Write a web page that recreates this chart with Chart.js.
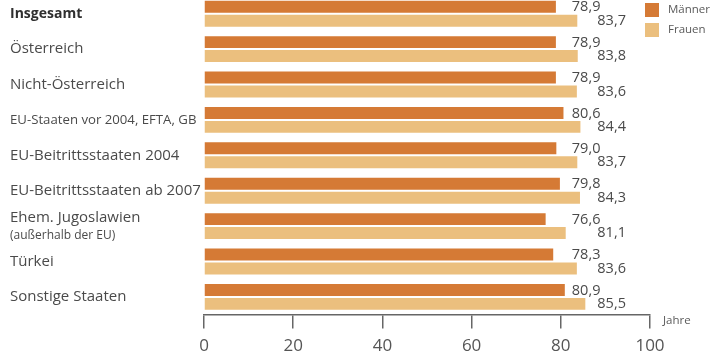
<!DOCTYPE html>
<html>
<head>
<meta charset="utf-8">
<script src="https://cdn.jsdelivr.net/npm/chart.js@4.4.1/dist/chart.umd.min.js"></script>
<style>
  html, body { margin: 0; padding: 0; background: #fff; overflow: hidden; }
  #wrap { position: absolute; left: 0; top: -4px; width: 710px; height: 367px; }
</style>
</head>
<body>
<div id="wrap"><canvas id="chart"></canvas></div>
<script>
// Lebenserwartung nach Staatsangehörigkeit
const categories = [
  'Insgesamt',
  'Österreich',
  'Nicht-Österreich',
  'EU-Staaten vor 2004, EFTA, GB',
  'EU-Beitrittsstaaten 2004',
  'EU-Beitrittsstaaten ab 2007',
  ['Ehem. Jugoslawien', '(außerhalb der EU)'],
  'Türkei',
  'Sonstige Staaten'
];
const maenner = [78.9, 78.9, 78.9, 80.6, 79.0, 79.8, 76.6, 78.3, 80.9];
const frauen = [83.7, 83.8, 83.6, 84.4, 83.7, 84.3, 81.1, 83.6, 85.5];
const xTicks = [0, 20, 40, 60, 80, 100];

const colMaenner = '#d57a35';
const colFrauen = '#ebbf7e';
const textCol = '#4a4a4a';
const FONT = '"Open Sans", sans-serif';

const fmt = v => v.toFixed(1).replace('.', ',');

// category labels, value labels, legend and axis title
const extras = {
  id: 'extras',
  afterDatasetsDraw(chart) {
    const ctx = chart.ctx;
    const x = chart.scales.x;
    const y = chart.scales.y;
    ctx.save();
    ctx.textBaseline = 'middle';

    // category labels on the left
    categories.forEach((c, i) => {
      const cy = y.getPixelForValue(i);
      ctx.textAlign = 'left';
      ctx.fillStyle = textCol;
      if (Array.isArray(c)) {
        ctx.font = '15px ' + FONT;
        ctx.fillText(c[0], 10, cy - 8);
        ctx.font = '12px ' + FONT;
        ctx.fillText(c[1], 10, cy + 9);
      } else if (i === 0) {
        ctx.font = 'bold 14px ' + FONT;
        ctx.fillStyle = '#2f2f2f';
        ctx.fillText(c, 10, cy);
      } else if (i === 3) {
        ctx.font = '13.2px ' + FONT;
        ctx.fillText(c, 10, cy);
      } else {
        ctx.font = '15px ' + FONT;
        ctx.fillText(c, 10, cy);
      }
    });

    // value labels in two columns right of the bars
    ctx.font = '14.5px ' + FONT;
    ctx.fillStyle = textCol;
    ctx.textAlign = 'left';
    const mCol = x.getPixelForValue(Math.max(...maenner)) + 7;
    const fCol = x.getPixelForValue(Math.max(...frauen)) + 12;
    chart.getDatasetMeta(0).data.forEach((bar, i) => {
      ctx.fillText(fmt(maenner[i]), mCol, bar.y + 0.5);
    });
    chart.getDatasetMeta(1).data.forEach((bar, i) => {
      ctx.fillText(fmt(frauen[i]), fCol, bar.y);
    });

    // legend
    const lx = 645, ly = 7;
    chart.data.datasets.forEach((ds, i) => {
      ctx.fillStyle = ds.backgroundColor;
      ctx.fillRect(lx, ly + i * 20, 14, 14);
      ctx.fillStyle = '#5a5a5a';
      ctx.font = '11.5px ' + FONT;
      ctx.fillText(ds.label, lx + 23, ly + 7 + i * 20);
    });

    // axis unit
    ctx.font = '11.5px ' + FONT;
    ctx.fillStyle = '#5a5a5a';
    ctx.fillText('Jahre', x.right + 13, chart.chartArea.bottom + 6);
    ctx.restore();
  }
};

new Chart(document.getElementById('chart'), {
  type: 'bar',
  data: {
    labels: categories,
    datasets: [
      { label: 'Männer', data: maenner, backgroundColor: colMaenner },
      { label: 'Frauen', data: frauen, backgroundColor: colFrauen }
    ]
  },
  options: {
    indexAxis: 'y',
    responsive: true,
    maintainAspectRatio: false,
    animation: false,
    categoryPercentage: 0.7875,
    barPercentage: 0.857,
    layout: { padding: { left: 204, right: 60, top: 0, bottom: 0 } },
    plugins: {
      legend: { display: false },
      tooltip: { enabled: false }
    },
    scales: {
      y: { display: false },
      x: {
        min: 0,
        max: 100,
        afterBuildTicks: axis => { axis.ticks = xTicks.map(v => ({ value: v })); },
        grid: {
          display: true,
          drawOnChartArea: false,
          drawTicks: true,
          tickLength: 14,
          color: '#666',
          lineWidth: 1.5
        },
        border: { display: true, color: '#666', width: 1.5 },
        ticks: {
          padding: 7,
          color: '#555',
          font: { family: FONT, size: 17 }
        }
      }
    }
  },
  plugins: [extras]
});
</script>
</body>
</html>
